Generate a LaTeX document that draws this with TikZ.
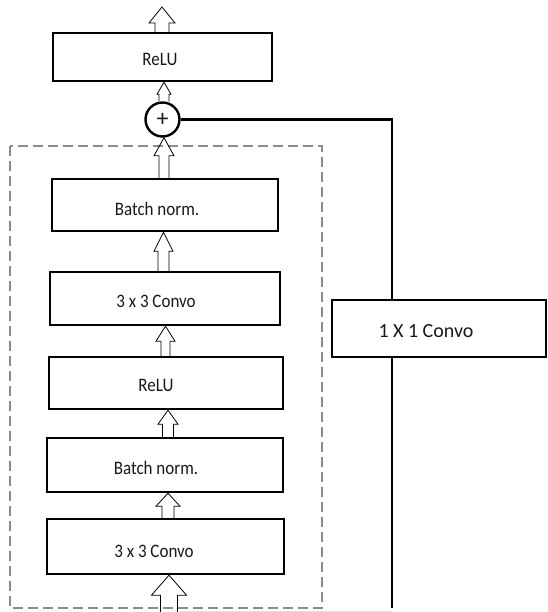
\documentclass[tikz,border=0pt]{standalone}
\usepackage{fontspec}
\setmainfont{Carlito}
\usetikzlibrary{calc}

\tikzset{
  layer/.style={draw=black, line width=2.4pt, fill=white, rectangle, inner sep=0pt},
  lbl/.style={font=\fontsize{17}{20}\selectfont, text=black!90, inner sep=0pt},
  hollow/.style={draw=black, line width=0.8pt, line join=miter},
  skip/.style={line width=2.4pt},
  frame/.style={draw=black!45, line width=1.2pt, dash pattern=on 10pt off 5pt},
  faint/.style={draw=black!12, line width=0.8pt}
}

% slightly tall lettering for the layer names
\newcommand\tall[1]{\scalebox{1}[1.12]{#1}}

% Hollow upward block arrow: #1 base point, #2 tip point, #3 x position,
% #4 head length, #5 head half width, #6 shaft half width
\newcommand\blockup[6]{%
  \draw[hollow] let \p1=(#1), \p2=(#2) in
    (#3pt-#6pt,\y1) -- (#3pt-#6pt,\y2-#4pt) -- (#3pt-#5pt,\y2-#4pt) -- (#3pt,\y2)
    -- (#3pt+#5pt,\y2-#4pt) -- (#3pt+#6pt,\y2-#4pt) -- (#3pt+#6pt,\y1);}

\begin{document}
\begin{tikzpicture}[x=1pt,y=-1pt]
\useasboundingbox (0,0) rectangle (547,612);

% dashed frame round the residual branch
\draw[frame] (10,146) rectangle (322,608);

% residual branch layers
\node[layer, minimum width=226, minimum height=52] (bn1)   at (165,205) {};
\node[layer, minimum width=230, minimum height=53] (conv1) at (165,298.5) {};
\node[layer, minimum width=234, minimum height=52] (relu)  at (166,383) {};
\node[layer, minimum width=236, minimum height=54] (bn2)   at (165,465) {};
\node[layer, minimum width=237, minimum height=55] (conv2) at (165.5,546.5) {};

\node[lbl] at (157,209) {\tall{Batch norm.}};
\node[lbl] at (156,301) {\tall{3 x 3 Convo}};
\node[lbl] at (156,385) {\tall{ReLU}};
\node[lbl] at (156,468) {\tall{Batch norm.}};
\node[lbl] at (154,551) {\tall{3 x 3 Convo}};

% output activation and addition
\node[layer, minimum width=219, minimum height=48] (relutop) at (162.5,57) {};
\node[lbl] at (160,59) {\tall{ReLU}};
\node[circle, draw=black, line width=2.4pt, fill=white, minimum size=34, inner sep=0pt] (plus) at (162.5,119.5) {};
\node[font=\fontsize{24}{24}\selectfont, text=black!90, inner sep=0pt] at (plus.center) {+};

% shortcut path with 1x1 convolution
\node[layer, minimum width=214, minimum height=57] (c1x1) at (439,328.5) {};
\node[font=\fontsize{20}{24}\selectfont, text=black!90, inner sep=0pt] at (426,331) {1 X 1 Convo};

\coordinate (sk) at (392,119.5);
\coordinate (skb) at (392,608);
\coordinate (fb) at (180,611);
\draw[skip] (plus.east) -- (sk) -- (sk |- c1x1.north);
\draw[skip] (sk |- c1x1.south) -- (skb);
\draw[faint] (fb) -- (fb -| sk);

% block arrows
\coordinate (out) at (162,7);
\coordinate (in) at (169,612);
\blockup{relutop.north}{out}{162}{16}{13}{7}
\blockup{plus.north}{relutop.south}{164}{12}{7}{5}
\blockup{bn1.north}{plus.south}{164}{18}{10}{5}
\blockup{conv1.north}{bn1.south}{163.5}{19}{9.5}{5.5}
\blockup{relu.north}{conv1.south}{165.5}{15}{9.5}{4.5}
\blockup{bn2.north}{relu.south}{168}{14}{10}{5.5}
\blockup{conv2.north}{bn2.south}{168}{13}{12}{6}
\blockup{in}{conv2.south}{169}{20}{17.5}{8.5}
\end{tikzpicture}
\end{document}
